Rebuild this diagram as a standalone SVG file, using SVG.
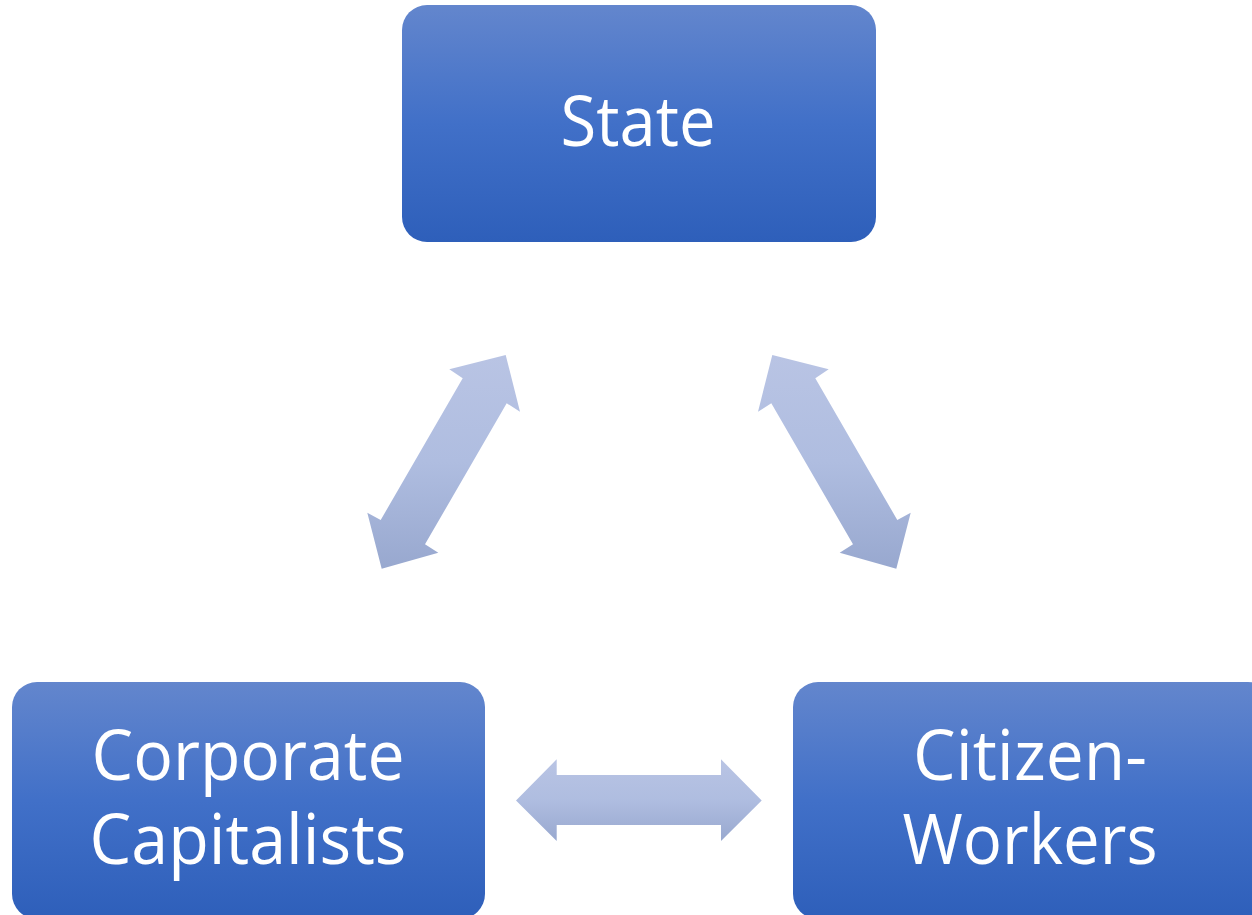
<svg xmlns="http://www.w3.org/2000/svg" width="1252" height="915" viewBox="0 0 1252 915">
<defs>
<linearGradient id="boxg" x1="0" y1="0" x2="0" y2="1">
<stop offset="0" stop-color="#6386cd"/>
<stop offset="0.5" stop-color="#4170c8"/>
<stop offset="1" stop-color="#2e5fba"/>
</linearGradient>
<linearGradient id="arrg" x1="0" y1="0" x2="0" y2="1">
<stop offset="0" stop-color="#b9c4e4"/>
<stop offset="0.5" stop-color="#afbde0"/>
<stop offset="1" stop-color="#98a8cf"/>
</linearGradient>
<style>
.box{fill:url(#boxg);}
.arr{fill:url(#arrg);}
.lbl{font-family:"Open Sans","Noto Sans","DejaVu Sans",sans-serif;font-size:70px;fill:#ffffff;text-anchor:middle;}
</style>
</defs>
<rect width="1252" height="915" fill="#ffffff"/>
<g id="connectors">
<polygon class="arr" points="505.7,355 449.3,369.3 462.7,378.3 380.7,520 367.3,512.7 381.7,568.7 438.3,552.7 425,544.3 506.7,403.3 520,411.7"/>
<polygon class="arr" points="772.3,355 828.7,369.3 815.3,378.3 897.3,520 910.7,512.7 896.3,568.7 839.7,552.7 853,544.3 771.3,403.3 758,411.7"/>
<polygon class="arr" points="516,800.5 556.7,759.3 556.7,775 721,775 721,759.3 761.7,800.5 721,841 721,825 556.7,825 556.7,841"/>
</g>
<g id="node-state">
<rect class="box" x="402" y="5" width="474" height="237" rx="25"/>
<text class="lbl" x="638" y="146" textLength="155" lengthAdjust="spacingAndGlyphs">State</text>
</g>
<g id="node-corporate">
<rect class="box" x="12" y="682" width="473" height="237" rx="25"/>
<text class="lbl"><tspan x="248" y="780" textLength="313" lengthAdjust="spacingAndGlyphs">Corporate</tspan><tspan x="248" y="864" textLength="317" lengthAdjust="spacingAndGlyphs">Capitalists</tspan></text>
</g>
<g id="node-citizen">
<rect class="box" x="793" y="682" width="480" height="237" rx="25"/>
<text class="lbl"><tspan x="1030" y="780" textLength="234" lengthAdjust="spacingAndGlyphs">Citizen-</tspan><tspan x="1030" y="864" textLength="255" lengthAdjust="spacingAndGlyphs">Workers</tspan></text>
</g>
</svg>
